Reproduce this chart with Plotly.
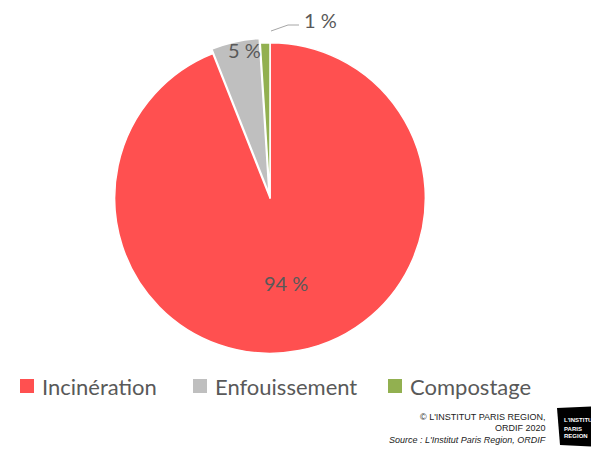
import plotly.graph_objects as go

labels = ["Incinération", "Enfouissement", "Compostage"]
values = [94, 5, 1]
colors = ["#FF5050", "#BFBFBF", "#92B050"]
pulls = [0, 0.03, 0]
credit_lines = ["© L'INSTITUT PARIS REGION,", "ORDIF 2020"]
source_text = "Source : L'Institut Paris Region, ORDIF"
logo_lines = ["L'INSTITUT", "PARIS", "REGION"]

# page body has an 8px margin: figure is drawn offset by (8, 8)
OFF = 8
W, H = 599 - OFF, 449 - OFF
def px(x): return (x - OFF) / W
def py(y): return 1 - (y - OFF) / H

FONT = "Lato"
GREY = "#595959"
FOOT = "Liberation Sans Narrow, Liberation Sans, Arial"

fig = go.Figure(go.Pie(
    labels=labels, values=values, sort=False, direction="clockwise", rotation=0,
    marker=dict(colors=colors, line=dict(color="white", width=1.5)),
    pull=pulls,
    textinfo="none",
    hoverinfo="label+percent",
    showlegend=False,
    domain=dict(x=[px(110), px(430)], y=[py(358), py(38)]),
))

def ann(x, y, text, size, color, xanchor="center", family=FONT):
    return dict(x=px(x), y=py(y), xref="paper", yref="paper", text=text,
                showarrow=False, xanchor=xanchor, yanchor="middle",
                font=dict(family=family, size=size, color=color))

annotations = [
    ann(285.5, 282.5, f"{values[0]} %", 20, GREY),
    ann(244.5, 49.5, f"{values[1]} %", 20, GREY),
    ann(302, 20, f"{values[2]} %", 20, GREY, xanchor="left"),
    ann(548, 417, credit_lines[0], 9, "#222", xanchor="right", family=FOOT),
    ann(548, 428, credit_lines[1], 9, "#222", xanchor="right", family=FOOT),
    ann(548, 440, f"<i>{source_text}</i>", 9, "#222", xanchor="right", family=FOOT),
    ann(562, 420, f"<b>{logo_lines[0]}</b>", 6, "white", xanchor="left", family=FOOT),
    ann(562, 429, f"<b>{logo_lines[1]}</b>", 6, "white", xanchor="left", family=FOOT),
    ann(562, 436, f"<b>{logo_lines[2]}</b>", 6, "white", xanchor="left", family=FOOT),
]

shapes = [
    dict(type="path", xref="paper", yref="paper",
         path=f"M {px(271)} {py(31)} L {px(288)} {py(25)} L {px(299)} {py(25)}",
         line=dict(color="#A6A6A6", width=1)),
    dict(type="path", xref="paper", yref="paper",
         path=f"M {px(557)} {py(408)} L {px(600)} {py(406)} L {px(600)} {py(447)} L {px(560)} {py(445)} Z",
         fillcolor="black", line=dict(width=0)),
]

# legend (drawn manually to match the reference spacing)
legend_sym_x = [20, 193, 388]
LEG_Y = 386
for lab, col, sx in zip(labels, colors, legend_sym_x):
    shapes.append(dict(type="rect", xref="paper", yref="paper",
                       x0=px(sx), x1=px(sx + 14), y0=py(LEG_Y + 7), y1=py(LEG_Y - 7),
                       fillcolor=col, line=dict(width=0)))
    annotations.append(ann(sx + 20, LEG_Y, lab, 22, GREY, xanchor="left"))

fig.update_layout(
    width=W, height=H,
    margin=dict(l=0, r=0, t=0, b=0),
    paper_bgcolor="white", plot_bgcolor="white",
    showlegend=False,
    annotations=annotations,
    shapes=shapes,
)

fig.write_html("out.html")
